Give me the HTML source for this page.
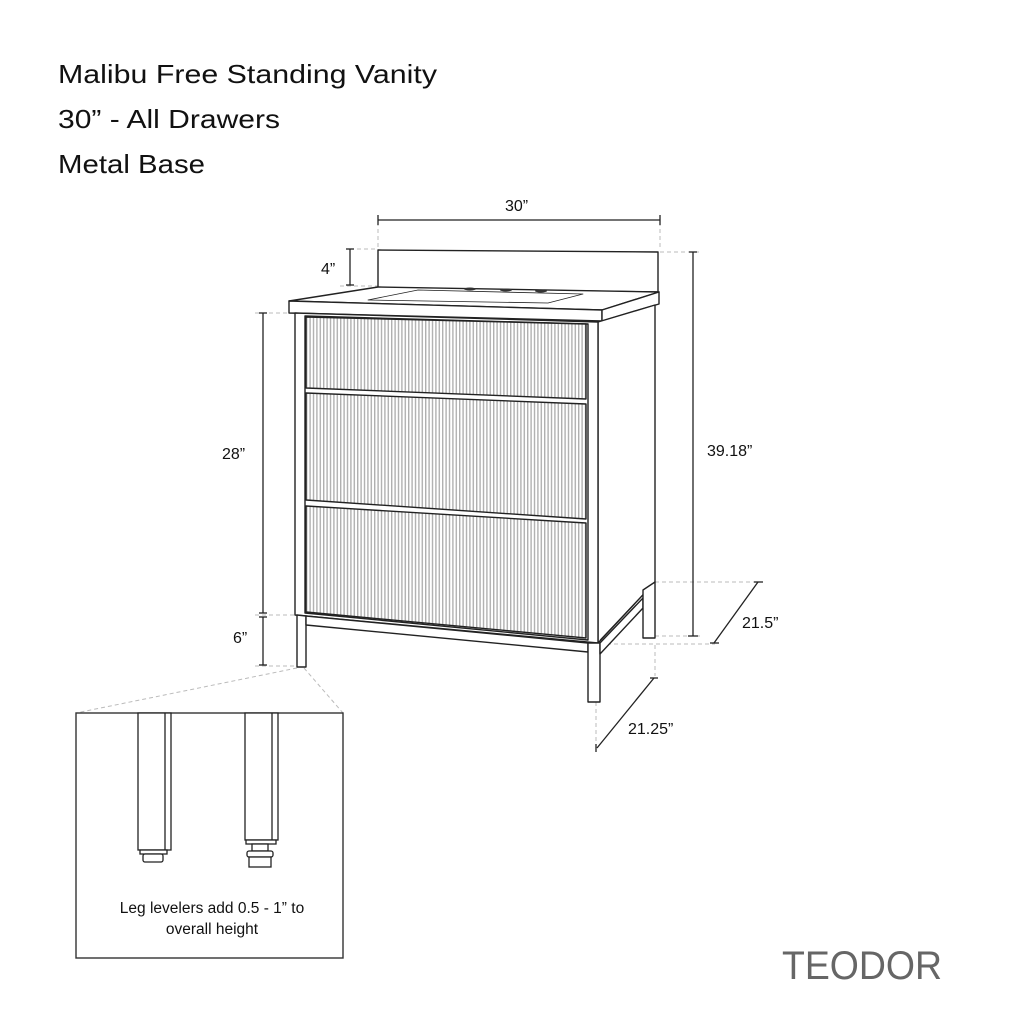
<!DOCTYPE html>
<html><head><meta charset="utf-8"><style>html,body{margin:0;padding:0;background:#fff}svg{display:block}</style></head>
<body>
<svg width="1024" height="1024" viewBox="0 0 1024 1024" xmlns="http://www.w3.org/2000/svg" font-family="Liberation Sans, sans-serif">
<defs>
<pattern id="flute" width="3.4" height="10" patternUnits="userSpaceOnUse">
<rect width="3.4" height="10" fill="#fff"/><rect x="0" width="1.4" height="10" fill="#b0b0b0"/>
</pattern>
</defs>
<rect width="1024" height="1024" fill="#fff"/>
<g fill="#111" font-size="26">
<text x="58" y="83" textLength="379" lengthAdjust="spacingAndGlyphs">Malibu Free Standing Vanity</text>
<text x="58" y="128" textLength="222" lengthAdjust="spacingAndGlyphs">30” - All Drawers</text>
<text x="58" y="173" textLength="147" lengthAdjust="spacingAndGlyphs">Metal Base</text>
</g>
<g stroke="#bbb" stroke-width="1" stroke-dasharray="4,3" fill="none">
<line x1="378" y1="222" x2="378" y2="250"/><line x1="660" y1="222" x2="660" y2="250"/>
<line x1="350" y1="249" x2="378" y2="249"/><line x1="340" y1="286" x2="378" y2="286"/>
<line x1="660" y1="252" x2="700" y2="252"/>
<line x1="255" y1="313" x2="292" y2="313"/><line x1="255" y1="615" x2="297" y2="615"/><line x1="255" y1="666" x2="297" y2="666"/>
<line x1="655" y1="582" x2="762" y2="582"/><line x1="655" y1="636" x2="700" y2="636"/>
<line x1="600" y1="644" x2="715" y2="644"/>
<line x1="655" y1="645" x2="655" y2="676"/><line x1="596" y1="702" x2="596" y2="750"/>
<line x1="297" y1="668" x2="76" y2="713"/><line x1="304" y1="668" x2="343" y2="713"/>
</g>
<g stroke="#222" stroke-width="1.3" fill="none">
<line x1="378" y1="220" x2="660" y2="220"/><line x1="378" y1="215" x2="378" y2="225"/><line x1="660" y1="215" x2="660" y2="225"/>
<line x1="350" y1="249" x2="350" y2="285"/><line x1="346" y1="249" x2="354" y2="249"/><line x1="346" y1="285" x2="354" y2="285"/>
<line x1="263" y1="313" x2="263" y2="613"/><line x1="259" y1="313" x2="267" y2="313"/><line x1="259" y1="613" x2="267" y2="613"/>
<line x1="263" y1="617" x2="263" y2="665"/><line x1="259" y1="617" x2="267" y2="617"/><line x1="259" y1="665" x2="267" y2="665"/>
<line x1="693" y1="252" x2="693" y2="636"/><line x1="689" y1="252" x2="697" y2="252"/><line x1="688" y1="636" x2="698" y2="636"/>
<line x1="758" y1="582" x2="714" y2="643"/><line x1="754" y1="582" x2="763" y2="582"/><line x1="710" y1="643" x2="719" y2="643"/>
<line x1="654" y1="678" x2="597" y2="748"/><line x1="650" y1="678" x2="658" y2="678"/><line x1="596" y1="744" x2="596" y2="752"/>
</g>
<g fill="#111" font-size="16">
<text x="505" y="211">30”</text>
<text x="321" y="274">4”</text>
<text x="222" y="459">28”</text>
<text x="233" y="643">6”</text>
<text x="707" y="456">39.18”</text>
<text x="742" y="628">21.5”</text>
<text x="628" y="734">21.25”</text>
</g>
<g stroke="#222" stroke-width="1.4" fill="#fff" stroke-linejoin="round">
<polygon points="378,250 658,252 658,292 378,288"/>
<polygon points="289,301 378,287 659,292 602,310"/>
<polygon points="289,301 602,310 602,321 289,313"/>
<polygon points="602,310 659,292 659,304 602,321"/>
<polygon points="368,300 418,290 583,294 548,303" stroke-width="0.8"/>
</g>
<g fill="#333"><ellipse cx="470" cy="289" rx="6" ry="1.5"/><ellipse cx="506" cy="290" rx="6" ry="1.5"/><ellipse cx="541" cy="291" rx="6" ry="1.5"/></g>
<g stroke="#222" stroke-width="1.4" fill="#fff" stroke-linejoin="round">
<polygon points="598,322 655,305 655,582 598,643"/>
<line x1="600" y1="640" x2="653" y2="584" stroke-width="0.8"/>
<polygon points="295,313 598,322 598,643 295,615"/>
<polygon points="305,316 588,324 588,640 305,613"/>
<polygon points="306,317 586,324 586,399 306,388" fill="url(#flute)"/>
<polygon points="306,393 586,404 586,519 306,500" fill="url(#flute)"/>
<polygon points="306,506 586,523 586,638 306,612" fill="url(#flute)"/>
<polygon points="297,615 306,616 306,667 297,667"/>
<polygon points="306,625 588,652 588,643 306,616"/>
<polygon points="588,643 600,643 600,702 588,702"/>
<polygon points="600,643 643,598 643,608 600,654"/>
<polygon points="643,590 655,582 655,638 643,638"/>
</g>
<rect x="76" y="713" width="267" height="245" fill="#fff" stroke="#333" stroke-width="1.4"/>
<g stroke="#222" stroke-width="1.3" fill="#fff">
<rect x="138" y="713" width="33" height="137"/><line x1="165" y1="713" x2="165" y2="850"/>
<rect x="140" y="850" width="27" height="4"/>
<rect x="143" y="854" width="20" height="8" rx="2"/>
<rect x="245" y="713" width="33" height="127"/><line x1="272" y1="713" x2="272" y2="840"/>
<rect x="246" y="840" width="30" height="4"/>
<rect x="252" y="844" width="16" height="7"/>
<rect x="247" y="851" width="26" height="6" rx="2"/>
<rect x="249" y="857" width="22" height="10"/>
</g>
<g fill="#111" font-size="15.5" text-anchor="middle">
<text x="212" y="913">Leg levelers add 0.5 - 1” to</text>
<text x="212" y="934">overall height</text>
</g>
<text x="782" y="979" font-size="40" fill="#666" textLength="160" lengthAdjust="spacingAndGlyphs">TEODOR</text>
</svg>
</body></html>
